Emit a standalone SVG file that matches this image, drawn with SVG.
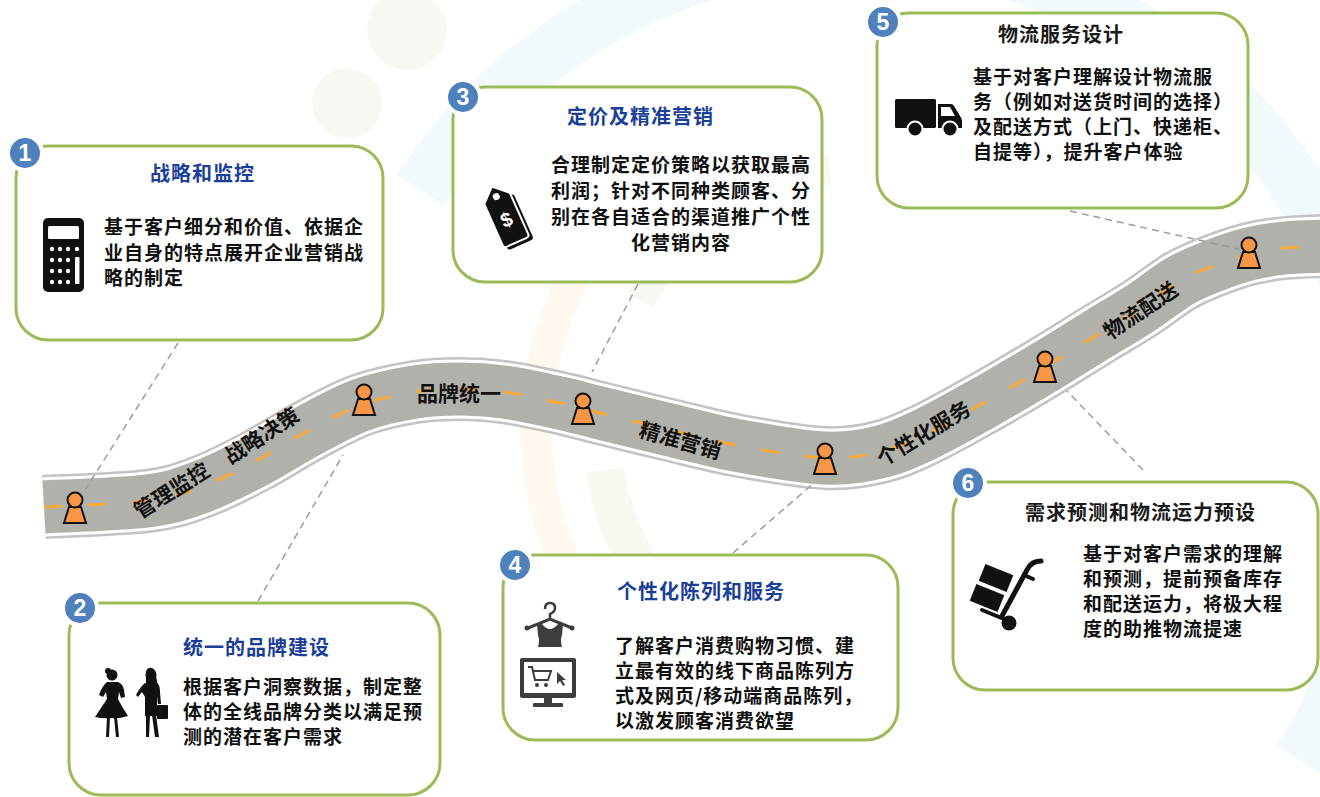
<svg xmlns="http://www.w3.org/2000/svg" xmlns:xlink="http://www.w3.org/1999/xlink" width="1320" height="797" viewBox="0 0 1320 797">
  <style>
    .box { fill: #ffffff; stroke: #9bbb59; stroke-width: 3; }
    .badge-disc { fill: #4f81bd; stroke: #ffffff; stroke-width: 4; }
    .badge-num { fill: #ffffff; font-family: "Liberation Sans", Arial, sans-serif; font-weight: 700; font-size: 23px; text-anchor: middle; }
    .cjk { font-family: "Noto Sans CJK SC", "Noto Sans", sans-serif; font-weight: 700; }
    .title { font-size: 20px; letter-spacing: 1px; fill: #1b3f98; }
    .title-dark { font-size: 20px; letter-spacing: 1px; fill: #1a1a1a; }
    .body { font-size: 19px; letter-spacing: 1px; fill: #111111; }
    .road-label { font-size: 21px; fill: #111111; text-anchor: middle; }
    .conn { fill: none; stroke: #9c9c9c; stroke-width: 1.5; stroke-dasharray: 7 5; }
    .pin { fill: #f79646; stroke: #111111; stroke-width: 2; }
    .ink { fill: #111111; }
    .grey-ink { fill: #3d3d3d; }
  </style>
  <defs>
    <g id="pin">
      <path class="pin" d="M-6,-16 L6,-16 L11,0 L-11,0 Z"/>
      <circle class="pin" cx="0" cy="-23" r="7.5"/>
    </g>
    <path id="route" d="M44,507 C61.2,506 120.8,504.3 147,501 C173.2,497.7 183.2,493.5 201,487 C218.8,480.5 236.2,471.3 254,462 C271.8,452.7 290.2,440.5 308,431 C325.8,421.5 343.2,411.5 361,405 C378.8,398.5 398.5,394.7 415,392 C431.5,389.3 445.2,389 460,389 C474.8,389 487.3,389.7 504,392 C520.7,394.3 544,399.5 560,403 C576,406.5 581.7,408.5 600,413 C618.3,417.5 646.7,424.5 670,430 C693.3,435.5 714.2,441.3 740,446 C765.8,450.7 801.7,457 825,458 C848.3,459 863.5,455.8 880,452 C896.5,448.2 907.3,442.8 924,435 C940.7,427.2 959.8,416.3 980,405 C1000.2,393.7 1025,379 1045,367 C1065,355 1084,342.8 1100,333 C1116,323.2 1127.7,316.7 1141,308 C1154.3,299.3 1168,288 1180,281 C1192,274 1201.5,270.5 1213,266 C1224.5,261.5 1237,257 1249,254 C1261,251 1272.3,249.3 1285,248 C1297.7,246.7 1318.3,246.3 1325,246"/>
  </defs>

  <rect x="0" y="0" width="1320" height="797" fill="#ffffff"/>

  <!-- faint ring emblem in the background -->
  <g id="backdrop" fill="none">
    <path d="M420,190 A445,445 0 0 1 1300,760" stroke="#f1f9fc" stroke-width="55"/>
    <path d="M575,585 A330,330 0 0 1 600,235" stroke="#fef8ef" stroke-width="32"/>
    <path d="M830,690 A260,260 0 0 1 605,470" stroke="#f5f9f0" stroke-width="38"/>
    <path d="M640,300 A260,260 0 0 1 830,170" stroke="#f6f9f1" stroke-width="30"/>
    <circle cx="347" cy="103" r="35" fill="#f6f9f1"/>
    <circle cx="407" cy="30" r="40" fill="#f6f9f1"/>
  </g>

  <!-- winding road -->
  <g id="road" fill="none">
    <use xlink:href="#route" stroke="#c3c3c1" stroke-width="64"/>
    <use xlink:href="#route" stroke="#ffffff" stroke-width="59"/>
    <use xlink:href="#route" stroke="#b1b1ab" stroke-width="53"/>
    <use xlink:href="#route" stroke="#f6a83a" stroke-width="3" stroke-dasharray="18 26"/>
  </g>

  <!-- dashed leader lines from the cards to the road -->
  <g id="connectors">
    <line class="conn" x1="178" y1="343" x2="85" y2="490"/>
    <line class="conn" x1="258" y1="601" x2="343" y2="455"/>
    <line class="conn" x1="638" y1="284" x2="592" y2="372"/>
    <line class="conn" x1="733" y1="553" x2="814" y2="483"/>
    <line class="conn" x1="1070" y1="211" x2="1243" y2="250"/>
    <line class="conn" x1="1143" y1="470" x2="1067" y2="391"/>
  </g>

  <!-- milestone pins -->
  <g id="pins">
    <use xlink:href="#pin" x="75" y="523"/>
    <use xlink:href="#pin" x="364" y="415"/>
    <use xlink:href="#pin" x="583" y="424"/>
    <use xlink:href="#pin" x="825" y="474"/>
    <use xlink:href="#pin" x="1045" y="382"/>
    <use xlink:href="#pin" x="1249" y="268"/>
  </g>

  <!-- road labels -->
  <g id="road-labels" class="cjk">
    <text class="road-label" transform="translate(172,491) rotate(-32)" y="7">管理监控</text>
    <text class="road-label" transform="translate(262,436) rotate(-33)" y="7">战略决策</text>
    <text class="road-label" transform="translate(459,394)" y="7">品牌统一</text>
    <text class="road-label" transform="translate(680,441) rotate(16)" y="7">精准营销</text>
    <text class="road-label" transform="translate(924,434) rotate(-31)" y="7">个性化服务</text>
    <text class="road-label" transform="translate(1141,311) rotate(-34)" y="7">物流配送</text>
  </g>

  <!-- card 1 -->
  <g id="card-1">
    <rect class="box" x="16" y="146" width="367" height="194" rx="32"/>
    <circle class="badge-disc" cx="25" cy="153" r="17"/>
    <text class="badge-num" x="25" y="161">1</text>
    <text class="cjk title" x="150" y="181">战略和监控</text>
    <g class="cjk body">
      <text x="104" y="234">基于客户细分和价值、依据企</text>
      <text x="104" y="260">业自身的特点展开企业营销战</text>
      <text x="104" y="285">略的制定</text>
    </g>
    <g id="icon-calculator">
      <rect class="ink" x="43" y="218" width="41" height="74" rx="5"/>
      <rect x="48" y="226" width="31" height="13" rx="1.5" fill="#ffffff"/>
      <g fill="#ffffff">
        <circle cx="52" cy="249" r="2.2"/><circle cx="60" cy="249" r="2.2"/><circle cx="68" cy="249" r="2.2"/><circle cx="77" cy="249" r="2.2"/>
        <circle cx="52" cy="260" r="2.2"/><circle cx="60" cy="260" r="2.2"/><circle cx="68" cy="260" r="2.2"/>
        <circle cx="52" cy="271" r="2.2"/><circle cx="60" cy="271" r="2.2"/><circle cx="68" cy="271" r="2.2"/>
        <circle cx="52" cy="282" r="2.2"/><circle cx="60" cy="282" r="2.2"/><circle cx="68" cy="282" r="2.2"/>
        <rect x="75" y="257" width="4.5" height="27" rx="1"/>
      </g>
    </g>
  </g>

  <!-- card 2 -->
  <g id="card-2">
    <rect class="box" x="69" y="603" width="371" height="192" rx="32"/>
    <circle class="badge-disc" cx="80" cy="608" r="17"/>
    <text class="badge-num" x="80" y="616">2</text>
    <text class="cjk title" x="183" y="655">统一的品牌建设</text>
    <g class="cjk body">
      <text x="183" y="694">根据客户洞察数据，制定整</text>
      <text x="183" y="719">体的全线品牌分类以满足预</text>
      <text x="183" y="744">测的潜在客户需求</text>
    </g>
    <g id="icon-shoppers" class="ink">
      <!-- woman in flared dress -->
      <circle cx="112" cy="675" r="5.5"/>
      <circle cx="108" cy="671" r="3"/>
      <path d="M107,682 L118,682 Q123,684 124,690 L125,697 L121,698 L119,692 L118,699 Q122,707 128,716 Q118,719 112,718 Q103,719 95,717 Q101,708 107,699 L106,692 L103,697 L99,695 Q102,686 107,682 Z"/>
      <path d="M107,717 L110,717 L109,737 L106,737 Z"/>
      <path d="M114,717 L117,717 L119,737 L116,737 Z"/>
      <!-- woman with handbag -->
      <circle cx="151" cy="675" r="5.5"/>
      <path d="M146,672 Q147,667 152,668 Q156,669 156,676 L158,686 L146,686 Z"/>
      <path d="M145,683 L157,683 Q160,685 160,692 L161,704 L158,704 L157,696 L157,716 L145,716 L145,697 L142,692 L138,697 L136,695 Q140,687 145,683 Z"/>
      <path d="M146,715 L150,715 L149,737 L146,737 Z"/>
      <path d="M152,715 L156,715 L159,737 L155,737 Z"/>
      <rect x="157" y="705" width="11" height="14" rx="1"/>
    </g>
  </g>

  <!-- card 3 -->
  <g id="card-3">
    <rect class="box" x="453" y="87" width="369" height="195" rx="32"/>
    <circle class="badge-disc" cx="463" cy="97" r="17"/>
    <text class="badge-num" x="463" y="105">3</text>
    <text class="cjk title" x="567" y="124">定价及精准营销</text>
    <g class="cjk body" text-anchor="middle">
      <text x="681" y="172">合理制定定价策略以获取最高</text>
      <text x="681" y="198">利润；针对不同种类顾客、分</text>
      <text x="681" y="224">别在各自适合的渠道推广个性</text>
      <text x="681" y="250">化营销内容</text>
    </g>
    <g id="icon-pricetag" transform="translate(504,214) rotate(-24)">
      <path class="ink" d="M3,-26 L17,-13 L17,32 Q17,35 14,35 L-8,35 Q-11,35 -11,32 L-11,-13 Z"/>
      <path class="ink" stroke="#ffffff" stroke-width="2" d="M0,-30 L14,-17 L14,28 Q14,31 11,31 L-11,31 Q-14,31 -14,28 L-14,-17 Z"/>
      <circle cx="0" cy="-19" r="3.5" fill="#ffffff"/>
      <text x="0" y="13" fill="#ffffff" font-family="Liberation Sans, Arial, sans-serif" font-weight="700" font-size="20" text-anchor="middle">$</text>
    </g>
  </g>

  <!-- card 4 -->
  <g id="card-4">
    <rect class="box" x="503" y="555" width="395" height="185" rx="32"/>
    <circle class="badge-disc" cx="515" cy="565" r="17"/>
    <text class="badge-num" x="515" y="573">4</text>
    <text class="cjk title" x="617" y="599">个性化陈列和服务</text>
    <g class="cjk body">
      <text x="615" y="653">了解客户消费购物习惯、建</text>
      <text x="615" y="678">立最有效的线下商品陈列方</text>
      <text x="615" y="703">式及网页/移动端商品陈列，</text>
      <text x="615" y="728">以激发顾客消费欲望</text>
    </g>
    <g id="icon-retail">
      <path d="M545,609 Q545,603 550,603 Q555,603 555,608 Q555,612 550,614 L550,619" fill="none" stroke="#3d3d3d" stroke-width="2.5"/>
      <path d="M528,628 L550,619 L572,628" fill="none" stroke="#3d3d3d" stroke-width="3" stroke-linecap="round"/>
      <circle class="grey-ink" cx="527" cy="628" r="2.5"/>
      <circle class="grey-ink" cx="572" cy="628" r="2.5"/>
      <path class="grey-ink" d="M537,624 L542,624 Q550,634 558,624 L563,624 L562,635 Q560,640 562,647 L538,647 Q540,640 538,635 Z"/>
      <rect class="grey-ink" x="520" y="658" width="56" height="40" rx="2"/>
      <rect x="524" y="662" width="48" height="31" fill="#ffffff"/>
      <rect class="grey-ink" x="544" y="698" width="8" height="5"/>
      <rect class="grey-ink" x="533" y="703" width="30" height="4" rx="1"/>
      <path d="M528,667 L532,667 L535,680 L548,680 L551,671 L533,671" fill="none" stroke="#3d3d3d" stroke-width="2"/>
      <circle class="grey-ink" cx="537" cy="685" r="2"/>
      <circle class="grey-ink" cx="546" cy="685" r="2"/>
      <path class="grey-ink" d="M557,672 L557,684 L560,681 L563,686 L565,685 L562,680 L566,680 Z"/>
    </g>
  </g>

  <!-- card 5 -->
  <g id="card-5">
    <rect class="box" x="877" y="13" width="371" height="195" rx="32"/>
    <circle class="badge-disc" cx="883" cy="22" r="17"/>
    <text class="badge-num" x="883" y="30">5</text>
    <text class="cjk title-dark" x="998" y="42">物流服务设计</text>
    <g class="cjk body">
      <text x="973" y="84">基于对客户理解设计物流服</text>
      <text x="973" y="109">务（例如对送货时间的选择）</text>
      <text x="973" y="134">及配送方式（上门、快递柜、</text>
      <text x="973" y="159">自提等），提升客户体验</text>
    </g>
    <g id="icon-truck">
      <rect class="ink" x="895" y="99" width="41" height="29" rx="1.5"/>
      <path class="ink" d="M938,104 L951,104 Q953,104 954,106 L960,116 Q962,118 962,121 L962,128 L938,128 Z"/>
      <path d="M941,107 L950,107 L955,116 L941,116 Z" fill="#ffffff"/>
      <circle class="ink" cx="915" cy="129" r="7.5" stroke="#ffffff" stroke-width="2"/>
      <circle class="ink" cx="950" cy="129" r="7.5" stroke="#ffffff" stroke-width="2"/>
    </g>
  </g>

  <!-- card 6 -->
  <g id="card-6">
    <rect class="box" x="953" y="482" width="365" height="208" rx="32"/>
    <circle class="badge-disc" cx="968" cy="483" r="17"/>
    <text class="badge-num" x="968" y="491">6</text>
    <text class="cjk title-dark" x="1025" y="520">需求预测和物流运力预设</text>
    <g class="cjk body">
      <text x="1083" y="561">基于对客户需求的理解</text>
      <text x="1083" y="586">和预测，提前预备库存</text>
      <text x="1083" y="611">和配送运力，将极大程</text>
      <text x="1083" y="636">度的助推物流提速</text>
    </g>
    <g id="icon-handtruck">
      <rect class="ink" x="-16" y="-10" width="32" height="20" transform="translate(996,578) rotate(22)" stroke="#ffffff" stroke-width="2"/>
      <rect class="ink" x="-16" y="-10" width="32" height="20" transform="translate(987,598) rotate(22)" stroke="#ffffff" stroke-width="2"/>
      <path d="M1041,561 Q1031,561 1027,570 L1002,616" fill="none" stroke="#111111" stroke-width="5" stroke-linecap="round"/>
      <path d="M1024,575 L1033,579" fill="none" stroke="#111111" stroke-width="4" stroke-linecap="round"/>
      <path d="M982,610 L1004,619" fill="none" stroke="#111111" stroke-width="4" stroke-linecap="round"/>
      <circle class="ink" cx="1009" cy="623" r="7.5"/>
    </g>
  </g>
</svg>
